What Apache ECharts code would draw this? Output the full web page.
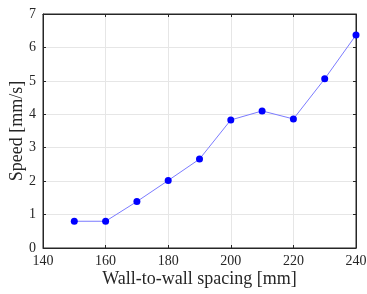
<!DOCTYPE html>
<html>
<head>
<meta charset="utf-8">
<script src="https://cdn.jsdelivr.net/npm/echarts@6/dist/echarts.min.js"></script>
<style>
  html, body { margin: 0; padding: 0; background: #fff; }
  #chart { width: 367px; height: 294px; }
</style>
</head>
<body>
<div id="chart"></div>
<script>
// spacing (mm) and speed (mm/s)
const spacing = [150, 160, 170, 180, 190, 200, 210, 220, 230, 240]
const speed = [0.80, 0.80, 1.39, 2.02, 2.66, 3.83, 4.10, 3.86, 5.06, 6.37]

const font = 'Liberation Serif'
const textColor = '#262626'

const chart = echarts.init(document.getElementById('chart'), null, { renderer: 'canvas' })

// top / right axes only draw the box and the inner ticks
const boxAxis = {
  axisLine: { show: true, onZero: false, lineStyle: { color: '#262626', width: 1 } },
  axisTick: { show: true, inside: true, length: 3, lineStyle: { color: '#262626' } },
  splitLine: { show: false },
  axisLabel: { show: false }
}

chart.setOption({
  animation: false,
  grid: {
    left: 43, right: 11, top: 14, bottom: 46,
    outerBoundsMode: 'none',
    containLabel: false,
    show: true, borderColor: '#262626', borderWidth: 1
  },
  xAxis: [
    {
      type: 'value',
      min: 140,
      max: 240,
      interval: 20,
      name: 'Wall-to-wall spacing [mm]',
      nameLocation: 'middle',
      nameGap: 22,
      nameMoveOverlap: false,
      nameTextStyle: { fontFamily: font, fontSize: 18, color: textColor },
      axisLine: { show: true, onZero: false, lineStyle: { color: '#262626', width: 1 } },
      axisTick: { show: true, inside: true, length: 3, lineStyle: { color: '#262626' } },
      axisLabel: { fontFamily: font, fontSize: 14, color: textColor, margin: 6 },
      splitLine: { show: true, lineStyle: { color: '#e6e6e6', width: 1 } }
    },
    Object.assign({ type: 'value', min: 140, max: 240, interval: 20, position: 'top' }, boxAxis)
  ],
  yAxis: [
    {
      type: 'value',
      min: 0,
      max: 7,
      interval: 1,
      name: 'Speed [mm/s]',
      nameLocation: 'middle',
      nameGap: 17,
      nameMoveOverlap: false,
      nameTextStyle: { fontFamily: font, fontSize: 18, color: textColor },
      axisLine: { show: true, onZero: false, lineStyle: { color: '#262626', width: 1 } },
      axisTick: { show: true, inside: true, length: 3, lineStyle: { color: '#262626' } },
      axisLabel: { fontFamily: font, fontSize: 14, color: textColor, margin: 7 },
      splitLine: { show: true, lineStyle: { color: '#e6e6e6', width: 1 } }
    },
    Object.assign({ type: 'value', min: 0, max: 7, interval: 1, position: 'right' }, boxAxis)
  ],
  series: [
    {
      type: 'line',
      data: spacing.map((x, i) => [x, speed[i]]),
      symbol: 'circle',
      symbolSize: 7,
      showAllSymbol: true,
      lineStyle: { color: '#7b7bff', width: 1 },
      itemStyle: { color: '#0000ff' }
    }
  ]
})
</script>
</body>
</html>
